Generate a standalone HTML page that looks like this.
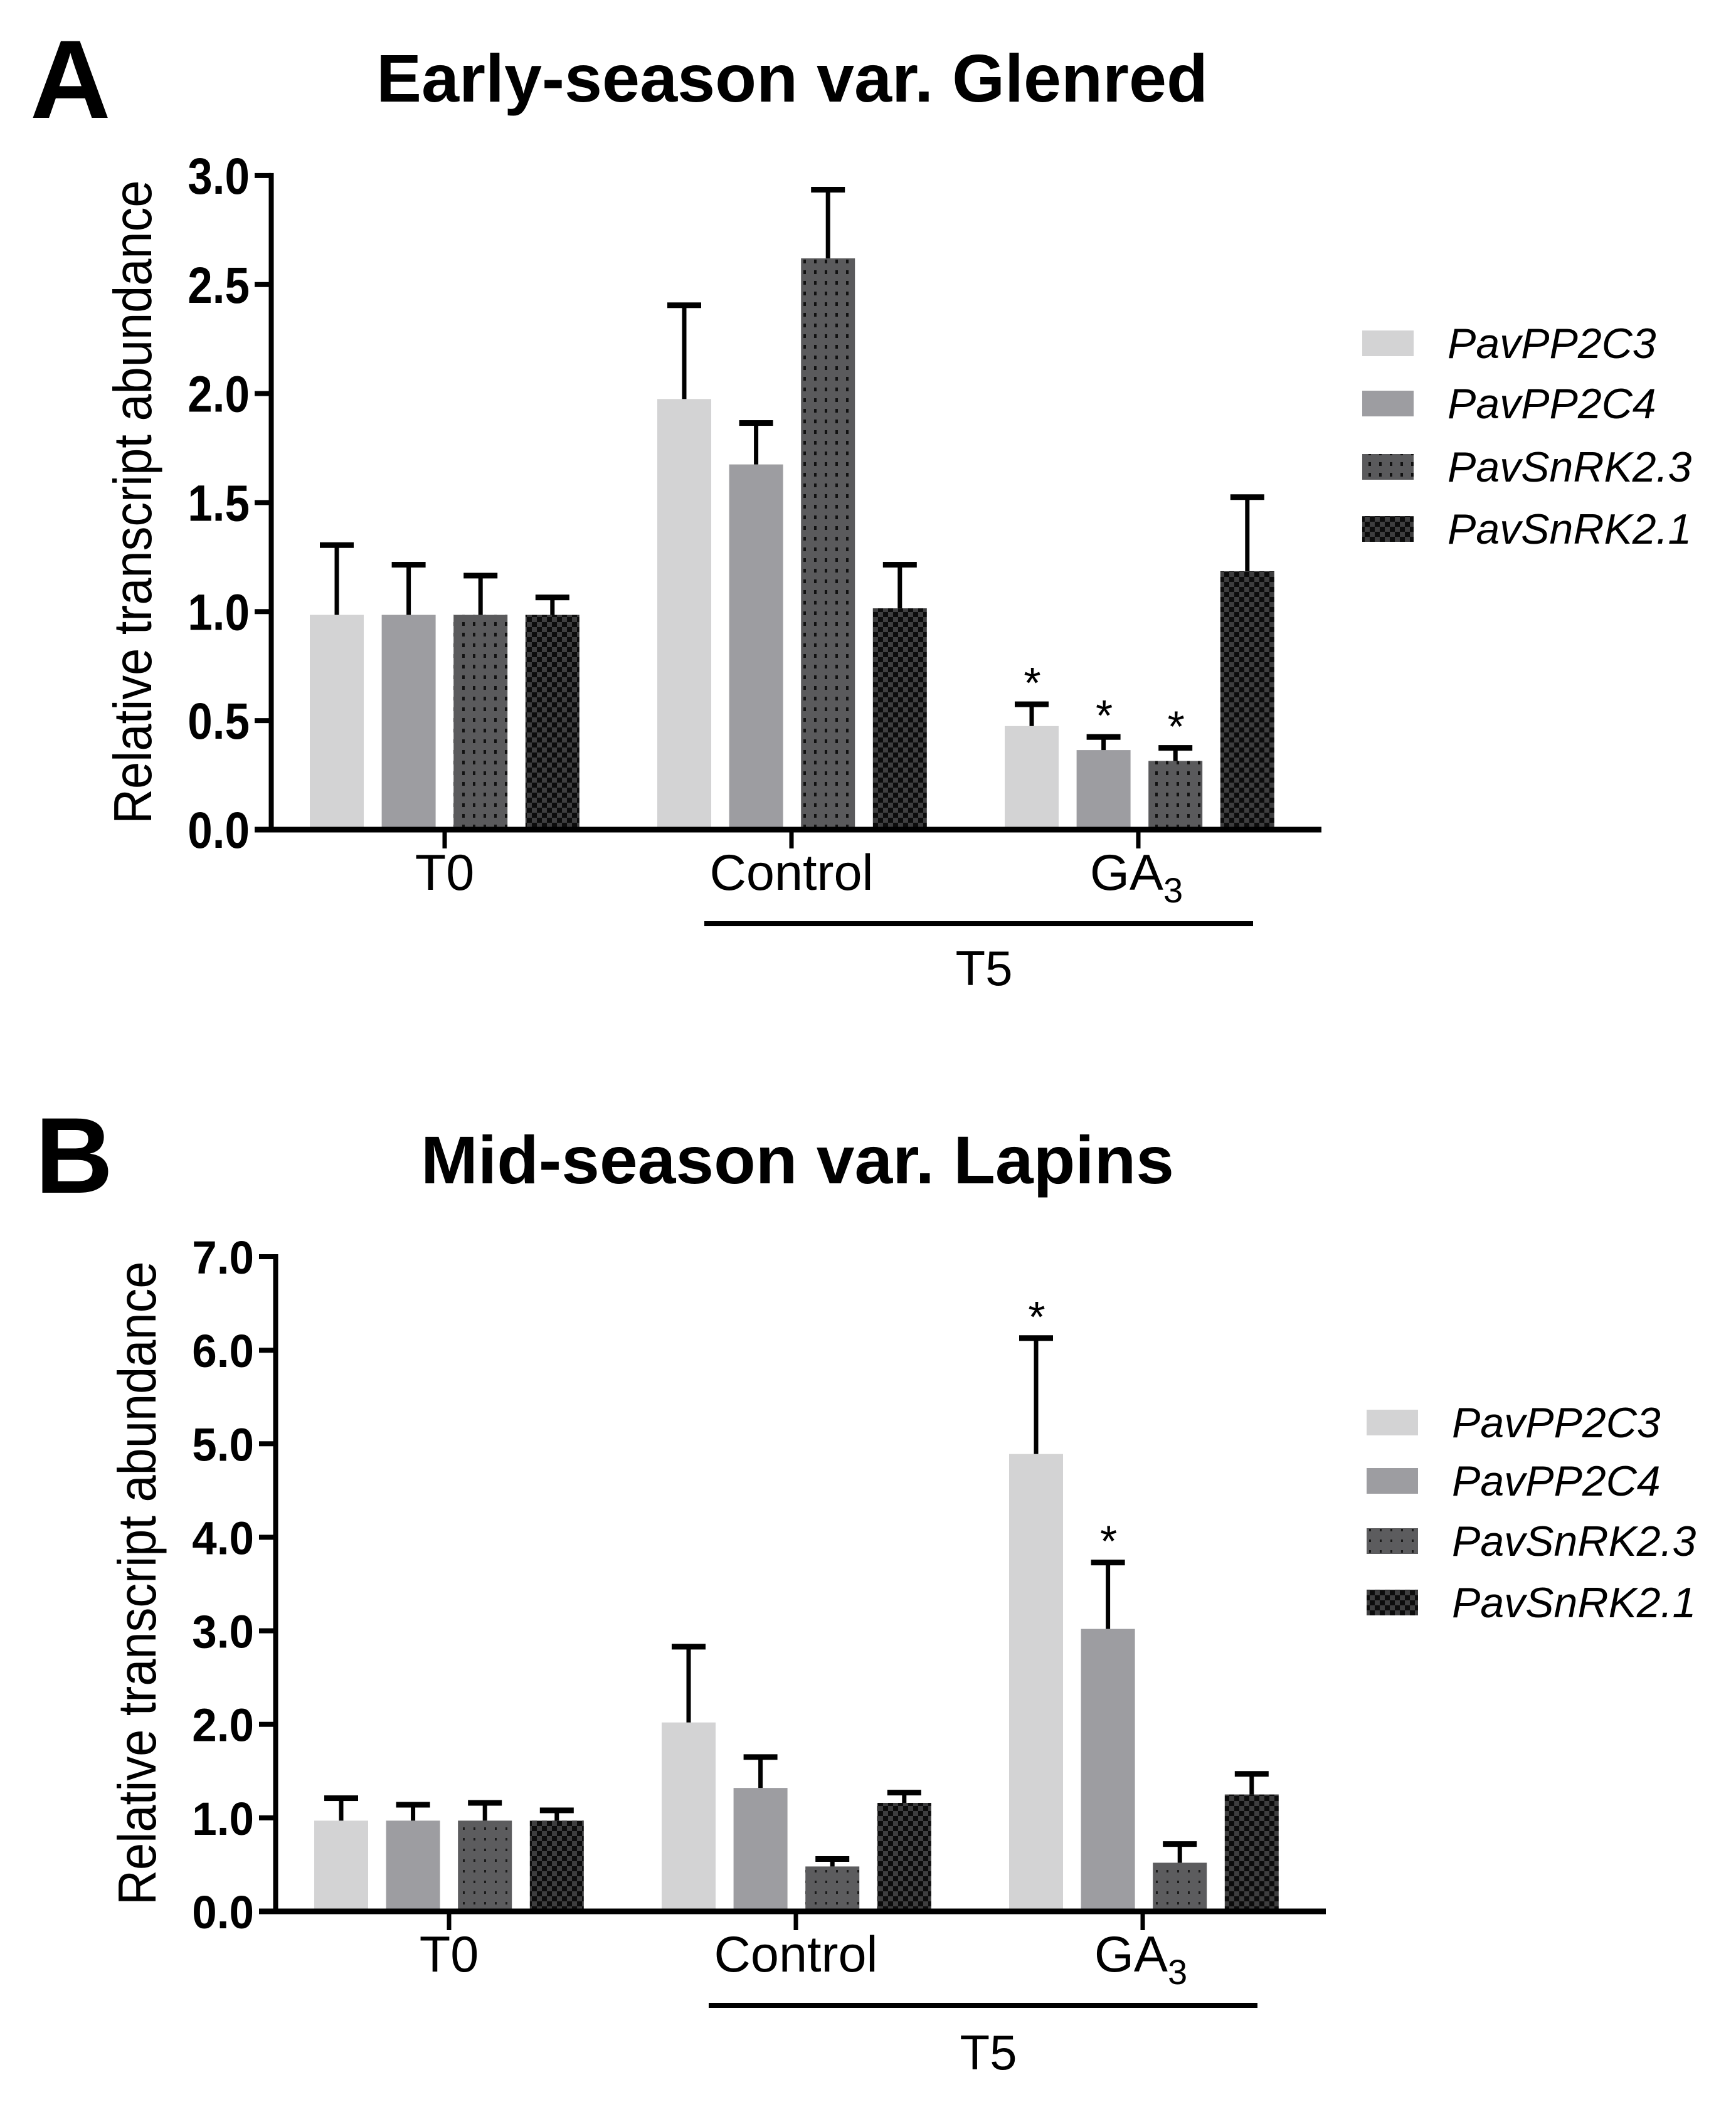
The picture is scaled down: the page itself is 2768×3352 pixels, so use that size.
<!DOCTYPE html>
<html lang="en">
<head>
<meta charset="utf-8">
<title>Relative transcript abundance in Glenred and Lapins</title>
<style>
html,body{margin:0;padding:0;background:#fff;width:2768px;height:3352px;overflow:hidden}
svg{display:block}
text{font-family:"Liberation Sans",Arial,sans-serif;fill:#000}
</style>
</head>
<body>
<svg id="figure" xmlns="http://www.w3.org/2000/svg" width="2768" height="3352" viewBox="0 0 2768 3352">
  <defs>
    <pattern id="dots" patternUnits="userSpaceOnUse" width="17" height="17">
      <rect width="17" height="17" fill="#5a5a5c"/>
      <rect x="6" y="6" width="4" height="6" fill="#111"/>
    </pattern>
    <pattern id="dots-b" patternUnits="userSpaceOnUse" width="17" height="17">
      <rect width="17" height="17" fill="#5c5c5e"/>
      <rect x="7" y="7" width="3" height="4" fill="#1a1a1a"/>
    </pattern>
    <pattern id="checks" patternUnits="userSpaceOnUse" width="16" height="16">
      <rect width="16" height="16" fill="#3e3e3f"/>
      <rect width="8" height="8" fill="#0c0c0c"/>
      <rect x="8" y="8" width="8" height="8" fill="#0c0c0c"/>
    </pattern>
  </defs>
  <rect width="2768" height="3352" fill="#fff"/>
  <text x="48" y="188" font-size="178" font-weight="700">A</text>
  <text x="600" y="162" font-size="108" font-weight="700" textLength="1326" lengthAdjust="spacingAndGlyphs">Early-season var. Glenred</text>
  <text x="56" y="1902" font-size="172" font-weight="700">B</text>
  <text x="671" y="1887" font-size="108" font-weight="700" textLength="1201" lengthAdjust="spacingAndGlyphs">Mid-season var. Lapins</text>
  <g id="panel-a"></g>
  <g id="panel-b"></g>
</svg>
<script>
const seriesNames = ['PavPP2C3', 'PavPP2C4', 'PavSnRK2.3', 'PavSnRK2.1'];
const categories = ['T0', 'Control', 'GA'];
const aTicks = [0, 0.5, 1, 1.5, 2, 2.5, 3];
const bTicks = [0, 1, 2, 3, 4, 5, 6, 7];

const aPP2C3 = [0.985, 1.975, 0.475];
const aPP2C4 = [0.985, 1.675, 0.365];
const aSnRK23 = [0.985, 2.62, 0.315];
const aSnRK21 = [0.985, 1.015, 1.185];
const aPP2C3Top = [1.305, 2.405, 0.575];
const aPP2C4Top = [1.215, 1.865, 0.425];
const aSnRK23Top = [1.165, 2.935, 0.375];
const aSnRK21Top = [1.065, 1.215, 1.525];
const aPP2C3Star = [0, 0, 1];
const aPP2C4Star = [0, 0, 1];
const aSnRK23Star = [0, 0, 1];
const aSnRK21Star = [0, 0, 0];

const bPP2C3 = [0.97, 2.02, 4.89];
const bPP2C4 = [0.97, 1.32, 3.02];
const bSnRK23 = [0.97, 0.48, 0.52];
const bSnRK21 = [0.97, 1.16, 1.25];
const bPP2C3Top = [1.21, 2.83, 6.13];
const bPP2C4Top = [1.14, 1.65, 3.73];
const bSnRK23Top = [1.16, 0.56, 0.72];
const bSnRK21Top = [1.08, 1.27, 1.47];
const bPP2C3Star = [0, 0, 1];
const bPP2C4Star = [0, 0, 1];
const bSnRK23Star = [0, 0, 0];
const bSnRK21Star = [0, 0, 0];

const NS = 'http://www.w3.org/2000/svg';

function make(parent, tag, attrs, txt) {
  const el = document.createElementNS(NS, tag);
  for (const k in attrs) el.setAttribute(k, attrs[k]);
  if (txt !== undefined) el.textContent = txt;
  parent.appendChild(el);
  return el;
}

function drawPanel(cfg) {
  const root = document.getElementById(cfg.id);
  const dx = cfg.dx;
  const fills = ['#d3d3d4', '#9d9da1', cfg.dotFill, 'url(#checks)'];
  const y = v => cfg.y0 - v * cfg.unit;
  const x = (g, s) => 494 + dx + g * 554 + s * 114.6;
  const barW = 86;

  // bars
  cfg.values.forEach((vals, s) => {
    vals.forEach((v, g) => {
      const bar = make(root, 'rect', {x: x(g, s), y: y(v), width: barW, height: y(0) - y(v), fill: fills[s]});
      
      
      const cx = x(g, s) + barW / 2;
      const top = y(cfg.tops[s][g]);
      const stem = make(root, 'rect', {x: cx - 3.5, y: top, width: 7, height: y(v) - top, fill: '#000'});
      
      
      const cap = make(root, 'rect', {x: cx - 27, y: top - 4.5, width: 54, height: 9, fill: '#000'});
      
      
      if (cfg.stars[s][g]) {
        const star = make(root, 'text', {x: cx + 1, y: top - 10, 'font-size': 70, 'text-anchor': 'middle'}, '*');
        
        
      }
    });
  });

  // axes
  const maxTick = cfg.ticks[cfg.ticks.length - 1];
  const yAxis = make(root, 'rect', {x: 428.5 + dx, y: y(maxTick) - 4, width: 8, height: y(0) - y(maxTick) + 8, fill: '#000'});
  
  
  const xAxis = make(root, 'rect', {x: 406 + dx, y: y(0) - 4.5, width: 1701, height: 9, fill: '#000'});
  
  

  cfg.ticks.forEach(t => {
    const tick = make(root, 'rect', {x: 406 + dx, y: y(t) - 4, width: 26, height: 8, fill: '#000'});
    
    
    const lab = make(root, 'text', {transform: `translate(${398 + dx},${y(t) + cfg.tickBase}) scale(1,${cfg.tickScale})`, x: 0, y: 0, 'font-size': 71, 'font-weight': 700, 'text-anchor': 'end'}, t.toFixed(1));
    
    
  });

  categories.forEach((c, g) => {
    const cx = 709 + dx + g * 553;
    const tick = make(root, 'rect', {x: cx - 3.5, y: y(0), width: 7, height: 30, fill: '#000'});
    
    
    const lab = make(root, 'text', {x: cx - (c === 'GA' ? 3 : 0), y: y(0) + 96, 'font-size': 81, 'text-anchor': 'middle'}, c);
    
    
    if (c === 'GA') {
      const sub = make(lab, 'tspan', {dy: 20, 'font-size': 56}, '3');
      
      
    }
  });

  const bracket = make(root, 'rect', {x: 1123 + dx, y: y(0) + 146, width: 875, height: 8, fill: '#000'});
  
  
  const t5 = make(root, 'text', {x: 1569 + dx, y: y(0) + cfg.t5Base, 'font-size': 78, 'text-anchor': 'middle'}, 'T5');
  
  

  const yTitle = make(root, 'text', {transform: `translate(${241 + dx},${cfg.titleStart}) rotate(-90) scale(1,1.1)`, x: 0, y: 0, 'font-size': 77.6}, 'Relative transcript abundance');
  
  

  // legend
  seriesNames.forEach((n, s) => {
    const sw = make(root, 'rect', {x: 2172 + dx, y: cfg.legendY[s] - 45, width: 82, height: 41, fill: fills[s]});
    
    
    const t = make(root, 'text', {x: 2308 + dx, y: cfg.legendY[s] - 1, 'font-size': 68, 'font-style': 'italic'}, n);
    
    
  });
}

drawPanel({
  id: 'panel-a', dx: 0, y0: 1323, unit: 347.7, ticks: aTicks,
  tickScale: 1.15, tickBase: 29, t5Base: 248, titleStart: 1314, dotFill: 'url(#dots)',
  values: [aPP2C3, aPP2C4, aSnRK23, aSnRK21],
  tops: [aPP2C3Top, aPP2C4Top, aSnRK23Top, aSnRK21Top],
  stars: [aPP2C3Star, aPP2C4Star, aSnRK23Star, aSnRK21Star],
  legendY: [572, 668, 769, 868]
});
drawPanel({
  id: 'panel-b', dx: 7, y0: 3048, unit: 149.14, ticks: bTicks,
  tickScale: 1.05, tickBase: 27, t5Base: 252, titleStart: 3038, dotFill: 'url(#dots-b)',
  values: [bPP2C3, bPP2C4, bSnRK23, bSnRK21],
  tops: [bPP2C3Top, bPP2C4Top, bSnRK23Top, bSnRK21Top],
  stars: [bPP2C3Star, bPP2C4Star, bSnRK23Star, bSnRK21Star],
  legendY: [2293, 2386, 2482, 2580]
});
</script>
</body>
</html>
